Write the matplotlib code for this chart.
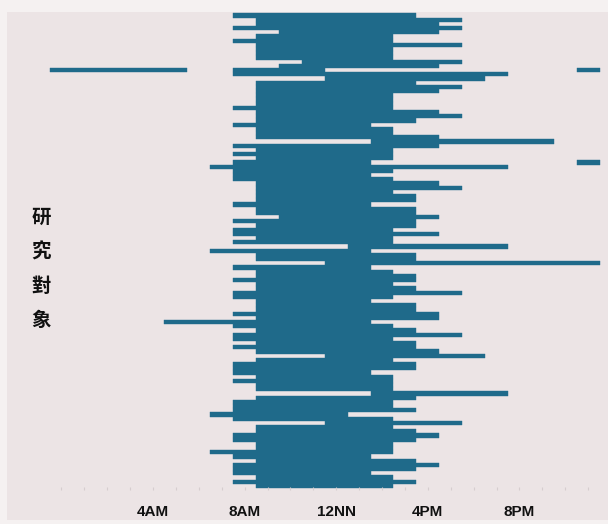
import matplotlib
matplotlib.use("Agg")
import matplotlib.pyplot as plt
from matplotlib.patches import Rectangle

# ---- data (hours of day; each bar spans hour-bins centred on whole hours) ----
row_start = [7.5, 8.5, 8.5, 7.5, 9.5, 8.5, 7.5, 8.5, 8.5, 8.5,
             8.5, 10.5, 9.5, 7.5, 7.5, 11.5, 8.5, 8.5, 8.5, 8.5,
             8.5, 8.5, 7.5, 8.5, 8.5, 8.5, 7.5, 8.5, 8.5, 8.5,
             13.5, 7.5, 8.5, 7.5, 8.5, 7.5, 6.5, 7.5, 7.5, 7.5,
             8.5, 8.5, 8.5, 8.5, 8.5, 7.5, 8.5, 8.5, 9.5, 7.5,
             8.5, 7.5, 7.5, 8.5, 7.5, 12.5, 6.5, 8.5, 8.5, 11.5,
             7.5, 8.5, 8.5, 7.5, 8.5, 8.5, 7.5, 7.5, 8.5, 8.5,
             8.5, 7.5, 8.5, 4.5, 7.5, 8.5, 7.5, 7.5, 8.5, 7.5,
             8.5, 11.5, 8.5, 7.5, 7.5, 7.5, 8.5, 7.5, 8.5, 8.5,
             13.5, 8.5, 7.5, 7.5, 7.5, 6.5, 7.5, 11.5, 8.5, 8.5,
             7.5, 7.5, 8.5, 8.5, 6.5, 7.5, 8.5, 7.5, 7.5, 7.5,
             8.5, 7.5, 8.5]
row_end = [15.5, 17.5, 16.5, 17.5, 16.5, 14.5, 14.5, 17.5, 14.5, 14.5,
           14.5, 17.5, 16.5, 11.5, 19.5, 18.5, 15.5, 17.5, 16.5, 14.5,
           14.5, 14.5, 14.5, 16.5, 17.5, 15.5, 13.5, 14.5, 14.5, 16.5,
           21.5, 16.5, 14.5, 14.5, 14.5, 13.5, 19.5, 14.5, 13.5, 14.5,
           16.5, 17.5, 14.5, 15.5, 15.5, 13.5, 15.5, 15.5, 16.5, 15.5,
           15.5, 14.5, 16.5, 14.5, 14.5, 19.5, 13.5, 15.5, 15.5, 23.5,
           13.5, 14.5, 15.5, 15.5, 14.5, 15.5, 17.5, 14.5, 13.5, 15.5,
           15.5, 16.5, 16.5, 13.5, 14.5, 15.5, 17.5, 14.5, 15.5, 15.5,
           16.5, 18.5, 14.5, 15.5, 15.5, 13.5, 14.5, 14.5, 14.5, 14.5,
           19.5, 15.5, 14.5, 14.5, 15.5, 12.5, 14.5, 17.5, 14.5, 15.5,
           16.5, 15.5, 14.5, 14.5, 14.5, 13.5, 15.5, 16.5, 15.5, 13.5,
           14.5, 15.5, 14.5]
# additional separate segments: (subject row, start, end)
extra_row = [13, 13, 35]
extra_start = [-0.5, 22.5, 22.5]
extra_end = [5.5, 23.5, 23.5]

tick_hours = [4, 8, 12, 16, 20]
tick_labels = ["4AM", "8AM", "12NN", "4PM", "8PM"]
ylabel_chars = list("研究對象")

# ---- style ----
BAR = "#1f6a8a"
PANEL = "#ece4e5"
OUTER = "#f5f1f1"

W, H = 608, 524
fig = plt.figure(figsize=(W / 100, H / 100), dpi=100, facecolor=OUTER)
fig.patches.append(Rectangle((7 / W, 4 / H), 1 - 7 / W, 1 - 16 / H,
                             transform=fig.transFigure, facecolor=PANEL,
                             edgecolor="none", zorder=-10))

ax_left, ax_right = 7, 608
ax_top, ax_bottom = 12, 490
ax = fig.add_axes([ax_left / W, 1 - ax_bottom / H,
                   (ax_right - ax_left) / W, (ax_bottom - ax_top) / H])
ax.set_facecolor("none")
ax.set_zorder(5)

x0, pxh = 61.4, 22.9          # pixel of hour 0, pixels per hour
ax.set_xlim((ax_left - x0) / pxh, (ax_right - x0) / pxh)
y0, pitch = 15.5, 4.2
ax.set_ylim((ax_bottom - y0) / pitch, (ax_top - y0) / pitch)

rows = list(range(len(row_start)))
widths = [e - s for s, e in zip(row_start, row_end)]
ax.barh(rows, widths, left=row_start, height=1.0, color=BAR,
        edgecolor=BAR, linewidth=0.3)
ax.barh(extra_row, [e - s for s, e in zip(extra_start, extra_end)],
        left=extra_start, height=1.0, color=BAR, edgecolor=BAR, linewidth=0.3)

for sp in ax.spines.values():
    sp.set_visible(False)
ax.set_yticks([])
ax.set_xticks(tick_hours)
ax.set_xticklabels(tick_labels, fontfamily="Liberation Sans",
                   fontweight="bold", fontsize=11, color="#111111")
ax.set_xticks(list(range(0, 24)), minor=True)
ax.tick_params(axis="x", which="both", direction="in", length=2.5,
               width=0.8, color="#d6cdcf", pad=11)

ycent = [217, 252, 286, 320]
for ch, yc in zip(ylabel_chars, ycent):
    fig.text(41 / W, 1 - yc / H, ch, ha="center", va="center",
             fontsize=14, fontweight="bold", color="#111111",
             family=["Noto Sans CJK TC", "DejaVu Sans"], zorder=6)

fig.savefig("out.png", dpi=100, facecolor=fig.get_facecolor())
